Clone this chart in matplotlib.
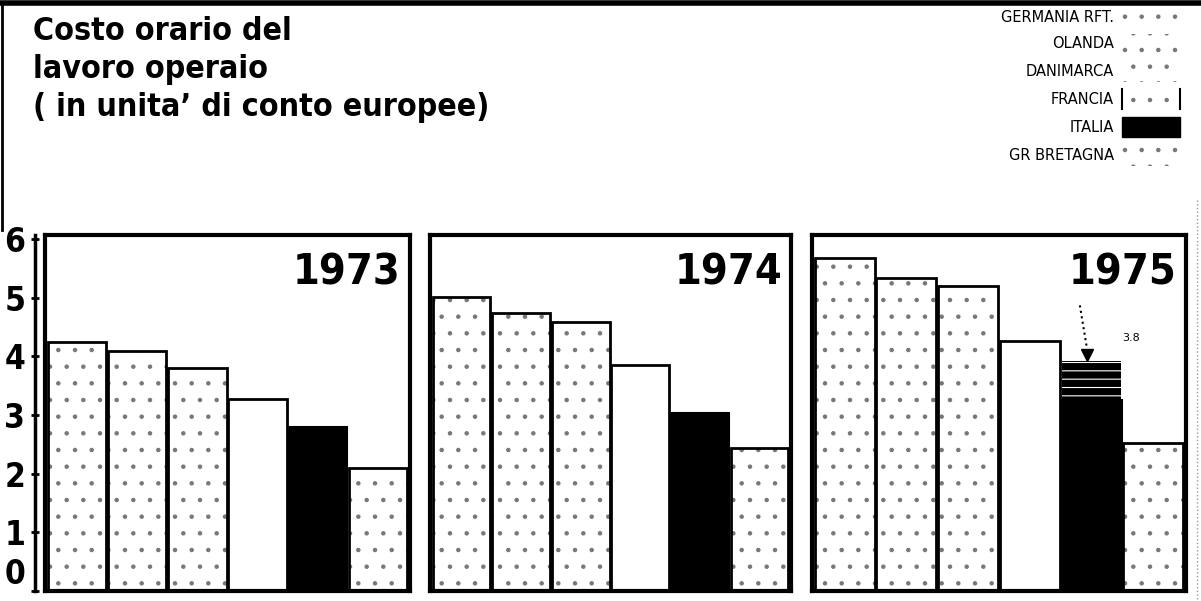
import matplotlib.pyplot as plt
from matplotlib.patches import Rectangle
from matplotlib.lines import Line2D

countries = ['GERMANIA RFT.', 'OLANDA', 'DANIMARCA', 'FRANCIA', 'ITALIA', 'GR BRETAGNA']
years = ['1973', '1974', '1975']
cost_1973 = [4.24, 4.10, 3.80, 3.28, 2.80, 2.09]
cost_1974 = [5.02, 4.74, 4.59, 3.86, 3.03, 2.43]
cost_1975 = [5.67, 5.34, 5.20, 4.26, 3.26, 2.53]
italia_1975_top = 3.92
italia_1975_label = '3.8'
y_ticks = [0, 1, 2, 3, 4, 5, 6]

NARROW = ['DejaVu Sans']
W, H = 1201, 601
DOT = '#777777'

plt.rcParams['hatch.linewidth'] = 0.8


def fx(px):
    return px / W


def fy(py):
    return 1 - py / H


def draw_panel(fig, rect, values, year, extra_top=None):
    ax = fig.add_axes(rect)
    for i, v in enumerate(values):
        if countries[i] == 'ITALIA':
            ax.bar(i, v, width=0.97, color='black', edgecolor='black', linewidth=1.5)
        else:
            if countries[i] != 'FRANCIA':
                # stipple first, then the black outline on top
                ax.bar(i, v, width=0.97, facecolor='white', edgecolor=DOT,
                       linewidth=0, hatch='.')
            ax.bar(i, v, width=0.97, facecolor='none', edgecolor='black', linewidth=2)
    if extra_top is not None:
        i = countries.index('ITALIA')
        ax.bar(i, extra_top - values[i], bottom=values[i], width=0.95,
               facecolor='black', edgecolor='white', hatch='--', linewidth=0)
        ax.plot(i - 0.07, extra_top + 0.1, marker='v', color='black', markersize=9)
        ax.plot([i - 0.19, i - 0.08], [extra_top + 0.95, extra_top + 0.25],
                color='black', linestyle=':', linewidth=1.5)
        ax.text(i + 0.5, extra_top + 0.4, italia_1975_label, fontsize=8,
                family=NARROW, ha='left', va='center')
    ax.set_xlim(-0.53, len(values) - 0.47)
    ax.set_ylim(0, 6.07)
    ax.set_xticks([])
    ax.set_yticks([])
    for s in ax.spines.values():
        s.set_linewidth(3)
    ax.text(0.975, 0.955, year, transform=ax.transAxes, ha='right', va='top',
            fontsize=31, fontweight='bold', family=NARROW, fontstretch='condensed')
    return ax


def main():
    fig = plt.figure(figsize=(W / 100, H / 100), dpi=100)

    bottom = fy(591)
    height = (591 - 235) / H
    draw_panel(fig, [fx(45), bottom, fx(365), height], cost_1973, years[0])
    draw_panel(fig, [fx(430), bottom, fx(361), height], cost_1974, years[1])
    draw_panel(fig, [fx(812), bottom, fx(374), height], cost_1975, years[2],
               extra_top=italia_1975_top)

    # y axis on the far left
    yax = fig.add_axes([fx(35), bottom, 0.0001, height])
    yax.set_ylim(0, 6.07)
    yax.set_xticks([])
    yax.set_yticks(y_ticks)
    yax.set_yticklabels([str(t) for t in y_ticks], fontsize=24, fontweight='bold',
                        family=NARROW, fontstretch='condensed')
    yax.get_yticklabels()[0].set_va('bottom')
    yax.tick_params(axis='y', direction='inout', length=6, width=2, pad=4)
    for k in ['top', 'right', 'bottom']:
        yax.spines[k].set_visible(False)
    yax.spines['left'].set_linewidth(2.5)

    # title
    fig.text(fx(33), fy(16), 'Costo orario del\nlavoro operaio\n( in unita\u2019 di conto europee)',
             ha='left', va='top', fontsize=23, fontweight='bold', family=NARROW,
             fontstretch='condensed', linespacing=1.3)

    # legend
    rows = [17, 44, 72, 99, 127, 156]
    for name, ry in zip(countries, rows):
        fig.text(fx(1114), fy(ry), name, ha='right', va='center', fontsize=10.5,
                 family=NARROW)
        box = ((fx(1122), fy(ry + 10)), fx(58), 20 / H)
        if name == 'ITALIA':
            r = Rectangle(*box, transform=fig.transFigure, facecolor='black',
                          edgecolor='black')
        else:
            r = Rectangle(*box, transform=fig.transFigure, facecolor='white',
                          edgecolor=DOT, hatch='.', linewidth=0)
        fig.patches.append(r)
        if name == 'FRANCIA':
            for bx in (1122, 1180):
                fig.add_artist(Line2D([fx(bx), fx(bx)], [fy(ry + 10), fy(ry - 10)],
                                      color='black', linewidth=1.5))

    # page frame lines
    fig.add_artist(Line2D([0, 1], [fy(3), fy(3)], color='black', linewidth=4))
    fig.add_artist(Line2D([fx(2), fx(2)], [fy(3), fy(230)], color='black', linewidth=2))
    fig.add_artist(Line2D([fx(1197), fx(1197)], [fy(200), fy(600)], color='#999999',
                          linewidth=1, linestyle=':'))

    fig.savefig('out.png', dpi=100, facecolor='white')


if __name__ == '__main__':
    main()
